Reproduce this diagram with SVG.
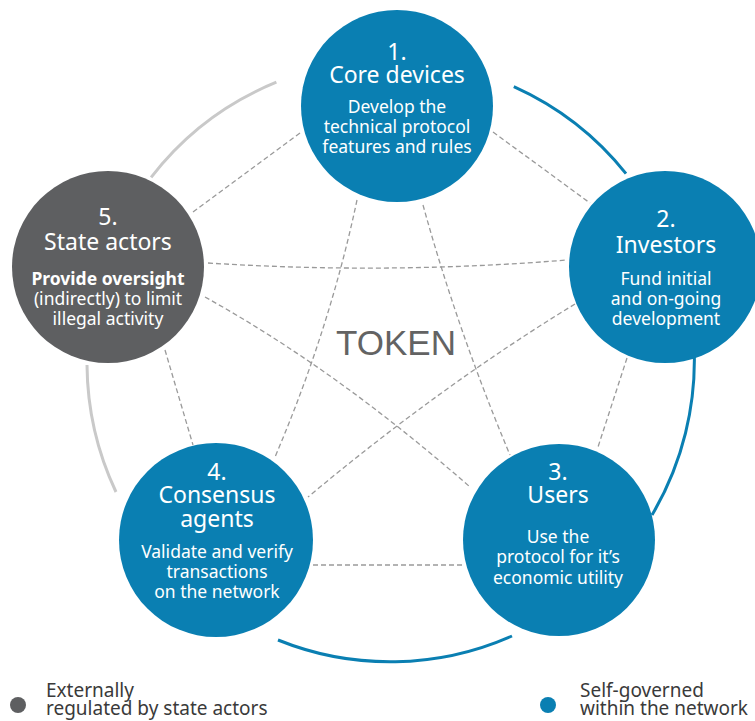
<svg xmlns="http://www.w3.org/2000/svg" width="755" height="721" viewBox="0 0 755 721">
<style>
.bg{fill:#ffffff}
.dash{fill:none;stroke:#9a9a9a;stroke-width:1.3;stroke-dasharray:5,3}
.arcB{fill:none;stroke:#0a7fb2;stroke-width:3}
.arcG{fill:none;stroke:#c9c9c9;stroke-width:3}
.nb{fill:#0a7fb2}
.ng{fill:#5e5f61}
.t{font-family:"Noto Sans","Open Sans","DejaVu Sans",sans-serif;fill:#ffffff;text-anchor:middle}
.ti{font-size:23px}
.de{font-size:17.5px}
.bold{font-weight:bold}
.tok{font-family:"Liberation Sans",Arial,sans-serif;font-size:35px;fill:#636363;text-anchor:middle}
.lg{font-family:"Noto Sans","Open Sans","DejaVu Sans",sans-serif;font-size:19px;fill:#3a3a3a}
</style>
<rect class="bg" x="0" y="0" width="755" height="721"/>
<g id="connectors">
  <path class="arcG" d="M276.4,82.2 A302,302 0 0,0 151.1,177.3"/>
  <path class="arcG" d="M87,365 A303,303 0 0,0 116,492"/>
  <path class="arcB" d="M513.8,86.6 A302,302 0 0,1 626,173.6"/>
  <path class="arcB" d="M694,345 A304,304 0 0,1 652,515"/>
  <path class="arcB" d="M278,640 A300,300 0 0,0 512,636"/>
  <path class="dash" d="M493,132 L590,203"/>
  <path class="dash" d="M300,133 L193,212"/>
  <path class="dash" d="M208,263 Q387.5,274.5 567,260"/>
  <path class="dash" d="M205,297 Q336.5,370 470,487"/>
  <path class="dash" d="M165,350 L193,445"/>
  <path class="dash" d="M357,200 Q330,328 275,457"/>
  <path class="dash" d="M423,205 Q457.5,330 510,455"/>
  <path class="dash" d="M575,304 Q441.5,385.5 308,497"/>
  <path class="dash" d="M627,358 L598,447"/>
  <path class="dash" d="M313,565 L465,565"/>
</g>
<text class="tok" x="396" y="355">TOKEN</text>
<g id="node1">
  <circle class="nb" cx="397" cy="106" r="96"/>
  <text class="t ti" x="397" y="60">1.</text>
  <text class="t ti" x="397" y="83">Core devices</text>
  <text class="t de" x="397" y="113">Develop the</text>
  <text class="t de" x="397" y="133">technical protocol</text>
  <text class="t de" x="397" y="153">features and rules</text>
</g>
<g id="node2">
  <circle class="nb" cx="665" cy="267" r="96"/>
  <text class="t ti" x="666" y="227">2.</text>
  <text class="t ti" x="666" y="253">Investors</text>
  <text class="t de" x="666" y="285">Fund initial</text>
  <text class="t de" x="666" y="305">and on-going</text>
  <text class="t de" x="666" y="325">development</text>
</g>
<g id="node3">
  <circle class="nb" cx="559" cy="540" r="96"/>
  <text class="t ti" x="558" y="480">3.</text>
  <text class="t ti" x="558" y="503">Users</text>
  <text class="t de" x="558" y="543">Use the</text>
  <text class="t de" x="558" y="563">protocol for it’s</text>
  <text class="t de" x="558" y="584">economic utility</text>
</g>
<g id="node4">
  <circle class="nb" cx="216" cy="540" r="97"/>
  <text class="t ti" x="217" y="480">4.</text>
  <text class="t ti" x="217" y="503">Consensus</text>
  <text class="t ti" x="217" y="527">agents</text>
  <text class="t de" x="217" y="558">Validate and verify</text>
  <text class="t de" x="217" y="578">transactions</text>
  <text class="t de" x="217" y="598">on the network</text>
</g>
<g id="node5">
  <circle class="ng" cx="108" cy="267" r="96"/>
  <text class="t ti" x="108" y="225">5.</text>
  <text class="t ti" x="108" y="250">State actors</text>
  <text class="t de bold" x="108" y="285">Provide oversight</text>
  <text class="t de" x="108" y="305">(indirectly) to limit</text>
  <text class="t de" x="108" y="325">illegal activity</text>
</g>
<g id="legend-external">
  <circle class="ng" cx="18" cy="705" r="8"/>
  <text class="lg" x="46" y="697">Externally</text>
  <text class="lg" x="46" y="715">regulated by state actors</text>
</g>
<g id="legend-self">
  <circle class="nb" cx="548" cy="705" r="8"/>
  <text class="lg" x="580" y="697">Self-governed</text>
  <text class="lg" x="580" y="715">within the network</text>
</g>
</svg>
